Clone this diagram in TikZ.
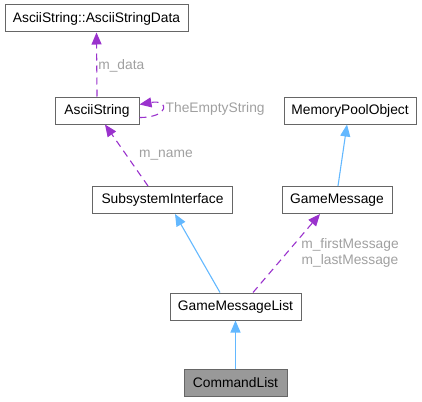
\documentclass[tikz,border=0pt]{standalone}
\usepackage{fontspec}
\setmainfont{Liberation Sans}
\definecolor{boxGrey}{RGB}{102, 102, 102}
\definecolor{leafGrey}{RGB}{153, 153, 153}
\definecolor{inheritBlue}{RGB}{99, 184, 255}
\definecolor{usePurple}{RGB}{154, 50, 205}
\definecolor{labelGrey}{RGB}{160, 160, 160}
\usetikzlibrary{arrows.meta, positioning}

\begin{document}
\begin{tikzpicture}[
      x=1pt, y=-1pt,
      every node/.style={font=\fontsize{13.8}{16}\selectfont},
      cls/.style={rectangle, draw=boxGrey, fill=white, line width=1pt, inner sep=0pt, minimum height=27pt},
      leaf/.style={cls, fill=leafGrey},
      inherit/.style={-{Triangle[length=12pt, width=10pt]}, line width=1.1pt, color=inheritBlue},
      usage/.style={-{Triangle[length=12pt, width=10pt]}, line width=1.1pt, color=usePurple, dash pattern=on 7pt off 5pt},
      lbl/.style={text=labelGrey, inner sep=1pt}
    ]
      \useasboundingbox (0,0) rectangle (422,401);

      % Classes, top to bottom
      \node[cls, minimum width=183pt] (asd) at (96.5,18.5) {AsciiString::AsciiStringData};
      \node[cls, minimum width=84pt] (ascii) at (97,110.5) {AsciiString};
      \node[cls, minimum width=132pt] (mpo) at (350,110.5) {MemoryPoolObject};
      \node[cls, minimum width=140pt] (ssi) at (162.5,200) {SubsystemInterface};
      \node[cls, minimum width=110pt] (gm) at (337,200) {GameMessage};
      \node[cls, minimum width=131pt] (gml) at (235.5,306.5) {GameMessageList};
      \node[leaf, minimum width=103pt] (cmd) at (235.5,382.5) {CommandList};

      % Member usage (dashed)
      \draw[usage] (ascii.north) -- node[lbl, right, pos=0.48]{m\_data} (asd.south);
      \draw[usage] ([yshift=-7pt]ascii.east) to[out=0, in=10, looseness=6] node[lbl, right, xshift=2pt]{TheEmptyString} ([yshift=6pt]ascii.east);
      \draw[usage] ([xshift=-14.5pt]ssi.north) -- node[lbl, right, pos=0.5, xshift=11pt]{m\_name} ([xshift=8pt]ascii.south);
      \draw[usage] ([xshift=17.5pt]gml.north) -- ([xshift=-17pt]gm.south);
      \node[lbl, align=center] (gmlbl) at (350,253) {m\_firstMessage\\m\_lastMessage};

      % Inheritance (solid)
      \draw[inherit] ([xshift=1pt]gm.north) -- ([xshift=-3pt]mpo.south);
      \draw[inherit] ([xshift=-15.5pt]gml.north) -- ([xshift=12.5pt]ssi.south);
      \draw[inherit] (cmd.north) -- (gml.south);
    \end{tikzpicture}
\end{document}
